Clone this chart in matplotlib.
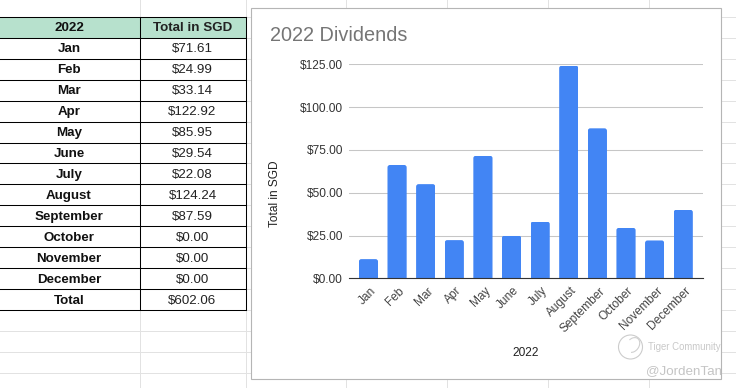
import matplotlib
matplotlib.use("Agg")
import matplotlib.pyplot as plt
from matplotlib.patches import Rectangle, FancyBboxPatch, Circle, Arc
from matplotlib.transforms import ScaledTranslation

plt.rcParams["font.family"] = ["Liberation Sans", "DejaVu Sans"]

W, H = 736, 388

months = ["Jan", "Feb", "Mar", "Apr", "May", "June", "July", "August",
          "September", "October", "November", "December"]
table_values = ["$71.61", "$24.99", "$33.14", "$122.92", "$85.95", "$29.54", "$22.08",
                "$124.24", "$87.59", "$0.00", "$0.00", "$0.00"]
table_total = "$602.06"
# the bars do not follow the table, these are read off the chart
bar_values = [11.2, 66.2, 55.0, 22.3, 71.6, 25.0, 33.1, 124.2, 87.6, 29.5, 22.1, 40.0]
y_ticks = [0, 25, 50, 75, 100, 125]
y_tick_labels = ["$0.00", "$25.00", "$50.00", "$75.00", "$100.00", "$125.00"]

fig = plt.figure(figsize=(W / 100, H / 100), dpi=100, facecolor="white")

# sheet background, table and chart frame, in pixel coordinates
bg = fig.add_axes([0, 0, 1, 1], zorder=0)
bg.set_xlim(0, W)
bg.set_ylim(H, 0)
bg.axis("off")

row_h = 20.97
top = 16.7
col_x = [139.5, 245.5]
grid_color = "#e2e2e2"

for i in range(-1, 18):
    y = top + i * row_h
    bg.plot([0, W], [y, y], color=grid_color, lw=0.72, zorder=1)
for x in [139.5, 245.5, 346.3, 447.3, 548.3, 649.3]:
    bg.plot([x, x], [0, H], color=grid_color, lw=0.72, zorder=1)

bg.add_patch(Rectangle((250.7, 7.6), 470.6, 371.6, facecolor="white", edgecolor="#b5b5b5",
                       lw=0.8, zorder=2))
bg.add_patch(Rectangle((0, top), col_x[1], row_h, facecolor="#b7e1cd", edgecolor="none", zorder=3))
bg.add_patch(Rectangle((0, top + row_h), col_x[1], row_h * 13, facecolor="white",
                       edgecolor="none", zorder=3))

for i in range(15):
    y = top + i * row_h
    bg.plot([0, col_x[1]], [y, y], color="black", lw=0.75, zorder=4)
for x in col_x:
    bg.plot([x, x], [top, top + 14 * row_h], color="black", lw=0.75, zorder=4)

first_col = ["2022"] + months + ["Total"]
second_col = ["Total in SGD"] + table_values + [table_total]
for i, (a, b) in enumerate(zip(first_col, second_col)):
    y = top + (i + 0.5) * row_h + 1.2
    bg.text(69, y, a, ha="center", va="center", fontsize=9.6, fontweight="bold",
            color="#111111", zorder=5)
    bg.text(192.5, y, b, ha="center", va="center", fontsize=9.6, color="#222222",
            fontweight="bold" if i == 0 else "normal", zorder=5)

bg.text(269.5, 35.5, "2022 Dividends", ha="left", va="center", fontsize=14.3, color="#757575", zorder=5)
bg.text(525.5, 353.5, "2022", ha="center", va="center", fontsize=8.6, color="#222222", zorder=5)
bg.text(275.5, 194, "Total in SGD", ha="center", va="center", rotation=90, fontsize=8.6,
        color="#222222", zorder=5)

# watermark
bg.add_patch(Circle((630.5, 347), 12, facecolor="none", edgecolor="#cccccc", lw=0.8, zorder=6))
bg.add_patch(Arc((633, 345), 12, 16, angle=35, theta1=200, theta2=70, color="#d0d0d0", lw=0.8, zorder=6))
bg.text(648, 347.5, "Tiger Community", ha="left", va="center", fontsize=6.9, color="#c9c9c9", zorder=6)
bg.text(646, 371, "@JordenTan", ha="left", va="center", fontsize=9.6, color="#c4c4c4", zorder=6)

# the chart itself
ax_left, ax_right, ax_top, ax_bottom = 349, 702.7, 64.3, 278.3
ax = fig.add_axes([ax_left / W, 1 - ax_bottom / H, (ax_right - ax_left) / W, (ax_bottom - ax_top) / H],
                  zorder=1)
ax.patch.set_alpha(0)
x_pos = list(range(len(months)))
bar_width = 0.67
ax.set_xlim(-0.68, 11.68)
ax.set_ylim(0, 125)
ax.set_axisbelow(True)
ax.grid(axis="y", color="#c6c6c6", lw=0.75)
ax.grid(axis="x", visible=False)

bars = ax.bar(x_pos, bar_values, width=bar_width, color="#4285f4", zorder=2, clip_on=True)

# rounded top corners, about 2 px
px_x = (ax_right - ax_left) / (11.68 + 0.68)
px_y = (ax_bottom - ax_top) / 125
for bar in bars:
    clip = FancyBboxPatch((bar.get_x(), -5), bar.get_width(), bar.get_height() + 5,
                          boxstyle="round,pad=0,rounding_size=%.4f" % (2.5 / px_x),
                          mutation_aspect=px_x / px_y, transform=ax.transData)
    bar.set_clip_path(clip)

for side in ["top", "left", "right"]:
    ax.spines[side].set_visible(False)
ax.spines["bottom"].set_color("#333333")
ax.spines["bottom"].set_linewidth(0.8)
ax.spines["bottom"].set_zorder(3)

ax.set_yticks(y_ticks)
ax.set_yticklabels(y_tick_labels)
ax.set_xticks(x_pos)
ax.set_xticklabels(months, rotation=45, ha="right", va="top", rotation_mode="anchor")
ax.tick_params(axis="y", length=0, pad=4.3, labelsize=8.6, labelcolor="#333333")
ax.tick_params(axis="x", length=0, pad=6.5, labelsize=8.6, labelcolor="#444444")
# nudge the slanted labels to sit right and up a bit
shift = ScaledTranslation(1.5 / 100, 2.5 / 100, fig.dpi_scale_trans)
for lab in ax.get_xticklabels():
    lab.set_transform(lab.get_transform() + shift)

fig.savefig("out.png", dpi=100)
